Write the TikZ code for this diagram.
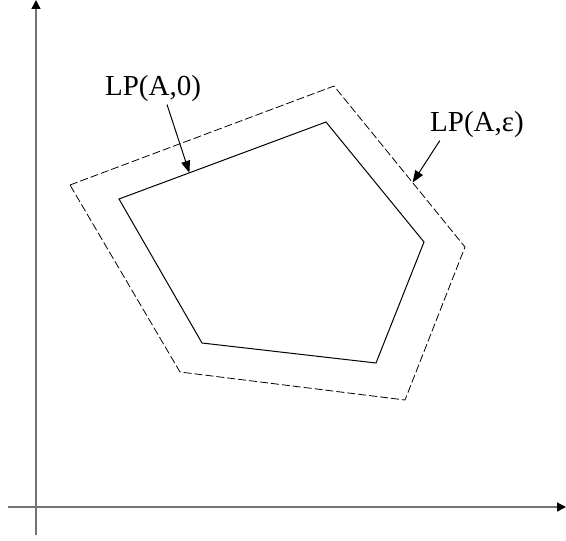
\documentclass[tikz,border=0pt]{standalone}
\usepackage{fontspec}
\setmainfont{Liberation Serif}
\usetikzlibrary{arrows.meta,calc}

\begin{document}
\begin{tikzpicture}[
  x=0.5pt, y=-0.5pt,
  font=\fontsize{14.5}{16}\selectfont,
  axis/.style={draw=black!55, line width=0.7pt, -{Triangle[length=4.5pt,width=4.5pt,color=black]}},
  inner/.style={draw=black, line width=0.5pt},
  outer/.style={draw=black, line width=0.4pt, dash pattern=on 4pt off 1.5pt},
  lbl/.style={inner sep=1pt},
  ptr/.style={-{Triangle[length=6pt,width=4.5pt]}, line width=0.5pt}
]
\useasboundingbox (0,0) rectangle (566,540);
% axes
\coordinate (xs) at (8,507);
\coordinate (xe) at (566,507);
\coordinate (ys) at (36,535);
\coordinate (ye) at (36,0);
\draw[axis] (xs) -- (xe);
\draw[axis] (ys) -- (ye);

% LP(A,0)
\coordinate (i1) at (119,199);
\coordinate (i2) at (326,122);
\coordinate (i3) at (424,242);
\coordinate (i4) at (376,363);
\coordinate (i5) at (202,343);
\draw[inner] (i1) -- (i2) -- (i3) -- (i4) -- (i5) -- cycle;

% LP(A,eps)
\coordinate (o1) at (70,185);
\coordinate (o2) at (334,86);
\coordinate (o3) at (465,247);
\coordinate (o4) at (405,400);
\coordinate (o5) at (180,372);
\draw[outer] (o1) -- (o2) -- (o3) -- (o4) -- (o5) -- cycle;

\node[lbl] (lp0) at (153,89) {LP(A,0)};
\node[lbl] (lpe) at (477,125) {LP(A,ε)};
\coordinate (t0) at ($(i1)!0.34!(i2)$);
\coordinate (te) at ($(o2)!0.6!(o3)$);
\draw[ptr] ([xshift=7pt]lp0.south) -- (t0);
\draw[ptr] ([xshift=6pt]lpe.south west) -- (te);
\end{tikzpicture}
\end{document}
